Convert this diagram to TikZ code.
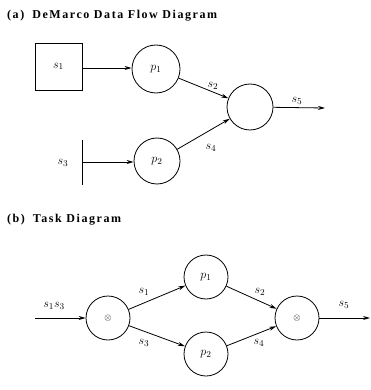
\documentclass[tikz,border=0pt]{standalone}
\usepackage{fontspec}
\setmainfont{Liberation Serif}
\usetikzlibrary{arrows.meta}
\begin{document}
\begin{tikzpicture}[x=1pt,y=-1pt,
  proc/.style={draw,circle,line width=0.8pt,inner sep=0pt,font=\fontsize{13}{15}\selectfont},
  boxnode/.style={draw,rectangle,line width=0.8pt,inner sep=0pt,font=\fontsize{13}{15}\selectfont},
  flow/.style={line width=0.8pt,-{Stealth[length=7pt,width=4pt]}},
  lbl/.style={font=\fontsize{13}{15}\selectfont},
  otim/.style={font=\fontsize{9}{10}\selectfont},
  title/.style={anchor=west,inner sep=0pt,font=\fontsize{12}{14}\selectfont\bfseries\addfontfeature{LetterSpace=13}}]
\useasboundingbox (0,0) rectangle (371,390);
% (a)
\node[title] (ta) at (7,16) {(a)\hspace{8pt}DeMarco Data Flow Diagram};
\node[boxnode,minimum size=47pt] (s1) at (58.5,66.5) {$s_1$};
\node[proc,minimum size=48pt] (p1) at (156,69) {$p_1$};
\node[proc,minimum size=46pt] (c) at (250,107) {};
\node[proc,minimum size=46pt] (p2) at (157,161) {$p_2$};
\coordinate (bt) at (82,140);
\coordinate (bb) at (82,185);
\coordinate (bm) at (82,162);
\draw[line width=0.8pt] (bt) -- (bb);
\node[lbl] (s3) at (63,163) {$s_3$};
\coordinate (o5) at (325,108);
\draw[flow] (s1.east |- 0,68) -- (p1.west |- 0,68);
\draw[flow] (bm) -- (p2.west |- bm);
\draw[flow] (p1) -- (c);
\draw[flow] (p2) -- (c);
\draw[flow] (c) -- (o5);
\node[lbl] (la2) at (213,86) {$s_2$};
\node[lbl] (la4) at (211,148) {$s_4$};
\node[lbl] (la5) at (297,101) {$s_5$};
% (b)
\node[title] (tb) at (7,220) {(b)\hspace{8pt}Task Diagram};
\node[proc,otim,minimum size=44pt] (L) at (108,318) {$\otimes$};
\node[proc,minimum size=44pt] (q1) at (206,277) {$p_1$};
\node[proc,minimum size=44pt] (q2) at (206,354) {$p_2$};
\node[proc,otim,minimum size=44pt] (R) at (297,318) {$\otimes$};
\coordinate (in) at (35,318);
\coordinate (out) at (370,318);
\draw[flow] (in) -- (L);
\draw[flow] (L) -- (q1);
\draw[flow] (L) -- (q2);
\draw[flow] (q1) -- (R);
\draw[flow] (q2) -- (R);
\draw[flow] (R) -- (out);
\node[lbl] (lb13) at (54,306) {$s_1s_3$};
\node[lbl] (lb1) at (144,292) {$s_1$};
\node[lbl] (lb2) at (260,292) {$s_2$};
\node[lbl] (lb3) at (144,343) {$s_3$};
\node[lbl] (lb4) at (259,343) {$s_4$};
\node[lbl] (lb5) at (344,305) {$s_5$};
\end{tikzpicture}
\end{document}
